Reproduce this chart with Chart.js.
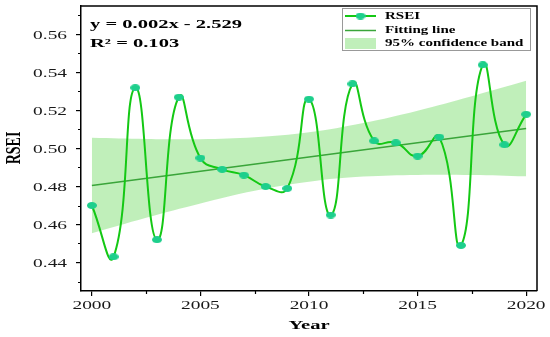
<!DOCTYPE html>
<html><head><meta charset="utf-8">
<script src="https://cdn.jsdelivr.net/npm/chart.js@4.4.1/dist/chart.umd.min.js"></script>
<style>html,body{margin:0;padding:0;background:#fff}#wrap{width:550px;height:337px;position:relative}</style>
</head><body><div id="wrap"><canvas id="c" width="550" height="337"></canvas></div>
<script>
// ---- data ----
const years = [2000,2001,2002,2003,2004,2005,2006,2007,2008,2009,2010,2011,2012,2013,2014,2015,2016,2017,2018,2019,2020];
const rsei  = [0.470,0.443,0.532,0.452,0.527,0.495,0.489,0.486,0.480,0.479,0.526,0.465,0.534,0.504,0.503,0.496,0.506,0.449,0.544,0.502,0.518];
const fitYears  = [2000, 2020];
const fitValues = [0.4805, 0.5105];
const bandYears = [2000, 2002.5, 2005, 2007.5, 2010, 2012.5, 2015, 2017.5, 2020];
const bandUpper = [0.5056, 0.5050, 0.5049, 0.5059, 0.5085, 0.5134, 0.5199, 0.5275, 0.5356];
const bandLower = [0.4554, 0.4636, 0.4711, 0.4777, 0.4825, 0.4852, 0.4861, 0.4861, 0.4854];
const xMinorTicks = [2002.5, 2007.5, 2012.5, 2017.5];
const yMinorTicks = [0.43, 0.45, 0.47, 0.49, 0.51, 0.53, 0.55, 0.57];
const xTitle = 'Year';
const yTitle = 'RSEI';
const equationText = 'y = 0.002x - 2.529';
const r2Text = 'R² = 0.103';
const legendLabels = ['RSEI', 'Fitting line', '95% confidence band'];

const C_LINE = '#14c814', C_PT = '#1dcf8c', C_FIT = '#3aa53a', C_BAND = 'rgba(150,228,140,0.6)';
const SERIF = '"Liberation Serif","Times New Roman",serif';
const SX = 1.55; // horizontal stretch of the reference's lettering

function ellipseCanvas(w, h, color) {
  const cv = document.createElement('canvas'); cv.width = w; cv.height = h;
  const g = cv.getContext('2d'); g.fillStyle = color;
  g.beginPath(); g.ellipse(w/2, h/2, w/2, h/2, 0, 0, Math.PI*2); g.fill();
  return cv;
}
const dot = ellipseCanvas(10, 7, C_PT);

const toXY = (xs, ys) => xs.map((x, i) => ({x, y: ys[i]}));

function sText(ctx, t, x, y, font, sx, align, color) {
  ctx.save();
  ctx.translate(x, y); ctx.scale(sx, 1);
  ctx.font = font; ctx.textAlign = align; ctx.textBaseline = 'middle';
  ctx.fillStyle = color || '#000';
  ctx.fillText(t, 0, 0);
  ctx.restore();
}

const extras = {
  id: 'extras',
  afterDraw(chart) {
    const ctx = chart.ctx, a = chart.chartArea, xs = chart.scales.x, ys = chart.scales.y;
    ctx.save();
    ctx.strokeStyle = '#000'; ctx.lineWidth = 1.5;
    ctx.beginPath();
    ctx.moveTo(a.left, a.top); ctx.lineTo(a.right, a.top); ctx.lineTo(a.right, a.bottom);
    ctx.stroke();
    ctx.lineWidth = 1.2;
    ctx.beginPath();
    xMinorTicks.forEach(v => { const p = Math.round(xs.getPixelForValue(v)) + 0.5; ctx.moveTo(p, a.bottom); ctx.lineTo(p, a.bottom + 3); });
    yMinorTicks.forEach(v => { const p = Math.round(ys.getPixelForValue(v)) + 0.5; ctx.moveTo(a.left, p); ctx.lineTo(a.left - 3, p); });
    ctx.stroke();
    // tick labels (stretched like the reference)
    const tickFont = '12.5px ' + SERIF;
    xs.ticks.forEach(t => sText(ctx, String(t.value), xs.getPixelForValue(t.value), 306, tickFont, SX, 'center', '#1a1a1a'));
    ys.ticks.forEach(t => sText(ctx, t.value.toFixed(2), 67, ys.getPixelForValue(t.value) + 1, tickFont, SX, 'right', '#1a1a1a'));
    // axis titles
    sText(ctx, xTitle, 309, 325.5, 'bold 12.5px ' + SERIF, 1.65, 'center');
    ctx.save();
    ctx.translate(15, 148); ctx.rotate(-Math.PI/2); ctx.scale(1, 1.45);
    ctx.font = 'bold 14px ' + SERIF; ctx.textAlign = 'center'; ctx.textBaseline = 'middle'; ctx.fillStyle = '#000';
    ctx.fillText(yTitle, 0, 0);
    ctx.restore();
    // equation
    sText(ctx, equationText, 90, 25, 'bold 13px ' + SERIF, 1.58, 'left');
    sText(ctx, r2Text, 90, 43.5, 'bold 13px ' + SERIF, 1.58, 'left');
    // legend
    ctx.strokeStyle = '#999'; ctx.lineWidth = 1;
    ctx.strokeRect(342.5, 8.5, 188, 42);
    const rows = [16, 30.5, 43.5];
    ctx.strokeStyle = C_LINE; ctx.lineWidth = 2;
    ctx.beginPath(); ctx.moveTo(345, rows[0]); ctx.lineTo(376, rows[0]); ctx.stroke();
    ctx.drawImage(dot, 360.5 - 5, rows[0] - 3.5);
    ctx.strokeStyle = C_FIT; ctx.lineWidth = 1.5;
    ctx.beginPath(); ctx.moveTo(345, rows[1]); ctx.lineTo(376, rows[1]); ctx.stroke();
    ctx.fillStyle = C_BAND; ctx.fillRect(345, 38, 31, 11);
    legendLabels.forEach((t, i) => sText(ctx, t, 385, rows[i], 'bold 10px ' + SERIF, 1.5, 'left'));
    ctx.restore();
  }
};

new Chart(document.getElementById('c'), {
  type: 'line',
  data: {
    datasets: [
      { label: 'RSEI', data: toXY(years, rsei), borderColor: C_LINE, borderWidth: 2, tension: 0.5,
        pointStyle: dot, pointRadius: 4, backgroundColor: C_PT, order: 0, fill: false },
      { label: 'Fitting line', data: toXY(fitYears, fitValues), borderColor: C_FIT, borderWidth: 1.5,
        pointRadius: 0, order: 1, fill: false },
      { label: 'upper', data: toXY(bandYears, bandUpper), borderWidth: 0, borderColor: 'rgba(0,0,0,0)',
        pointRadius: 0, tension: 0.4, fill: '+1', backgroundColor: C_BAND, order: 2 },
      { label: 'lower', data: toXY(bandYears, bandLower), borderWidth: 0, borderColor: 'rgba(0,0,0,0)',
        pointRadius: 0, tension: 0.4, fill: false, order: 3 }
    ]
  },
  options: {
    responsive: false, animation: false, devicePixelRatio: 1,
    layout: { padding: { top: 6, right: 13, left: 0, bottom: 0 } },
    plugins: { legend: { display: false }, tooltip: { enabled: false } },
    scales: {
      x: {
        type: 'linear', min: 1999.5, max: 2020.5,
        ticks: { display: false, stepSize: 5, includeBounds: false },
        grid: { drawOnChartArea: false, drawTicks: true, tickLength: 5, color: '#000', lineWidth: 1.2 },
        border: { display: true, color: '#000', width: 1.5 },
        title: { display: false },
        afterFit: s => { s.height = 46; }
      },
      y: {
        min: 0.425, max: 0.575,
        ticks: { display: false, stepSize: 0.02, includeBounds: false },
        grid: { drawOnChartArea: false, drawTicks: true, tickLength: 5, color: '#000', lineWidth: 1.2 },
        border: { display: true, color: '#000', width: 1.5 },
        title: { display: false },
        afterFit: s => { s.width = 81; }
      }
    }
  },
  plugins: [extras]
});
</script></body></html>
